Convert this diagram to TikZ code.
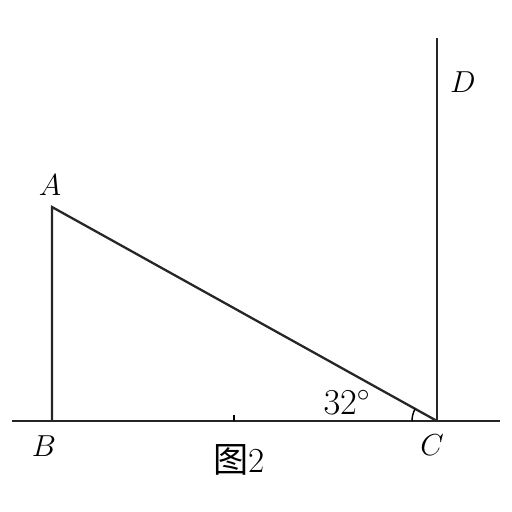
\documentclass[tikz,border=0pt]{standalone}
\usepackage{fontspec}
\newfontfamily\cjk{Noto Sans CJK SC}
\usetikzlibrary{calc}
\tikzset{
  geoline/.style={line width=1.3pt, black!85},
  ptlabel/.style={font=\fontsize{18}{20}\selectfont, inner sep=0pt},
  caption/.style={font=\fontsize{20}{22}\selectfont, inner sep=0pt}
}
\begin{document}
\begin{tikzpicture}[x=0.02cm, y=0.02cm]
  \useasboundingbox (0,0) rectangle (512,512);
  \coordinate (A) at (52,305);
  \coordinate (B) at (52,91);
  \coordinate (C) at (437,91);
  \coordinate (D) at (437,474);
  \coordinate (L) at (12,91);
  \coordinate (R) at (500,91);
  % ground and pole
  \draw[geoline] (L) -- (R);
  \draw[geoline] (C) -- (D);
  % triangle
  \draw[geoline] (B) -- (A) -- (C);
  \draw[line width=0.8pt] ($(C)+(180:25)$) arc[start angle=180, end angle=151, radius=25];
  \draw[line width=0.8pt] (234,91) -- (234,97);
  % labels
  \node[ptlabel] (la) at (50,327) {$A$};
  \node[ptlabel] (lb) at (44,66) {$B$};
  \node[ptlabel] (lc) at (432,67) {$C$};
  \node[ptlabel] (ld) at (463,430) {$D$};
  \node[ptlabel, font=\fontsize{20}{22}\selectfont] (ang) at (347,110) {$32^\circ$};
  \node[caption] (cap) at (239,52) {{\cjk 图}2};
\end{tikzpicture}
\end{document}
